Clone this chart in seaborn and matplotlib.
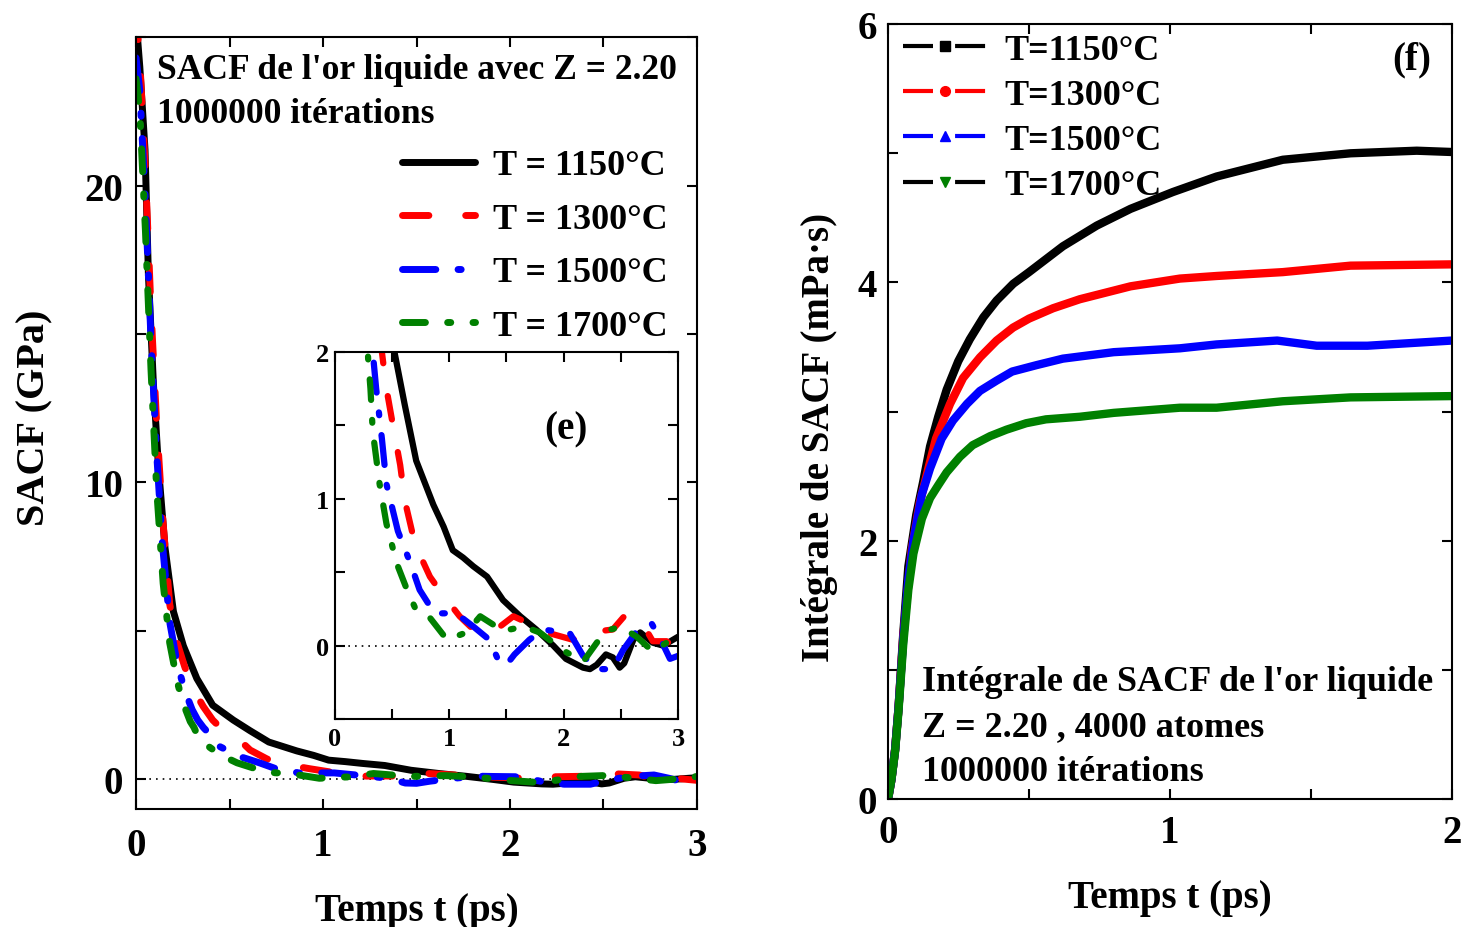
import matplotlib
matplotlib.use('Agg')
import matplotlib.pyplot as plt
import seaborn as sns
import pandas as pd
from matplotlib.ticker import MultipleLocator
from matplotlib.lines import Line2D

# SACF (GPa) vs time (ps)
t_1150 = [0, 0.02, 0.048, 0.066, 0.093, 0.12, 0.155, 0.2, 0.253, 0.325, 0.41, 0.52, 0.61, 0.71, 0.86, 0.95,
          1.03, 1.12, 1.21, 1.33, 1.47, 1.62, 1.76, 1.91, 2.02, 2.17, 2.23, 2.29, 2.37, 2.43, 2.49, 2.53,
          2.61, 2.67, 2.78, 2.87, 3.0]
sacf_1150 = [25.6, 24.0, 21.2, 17.0, 13.3, 10.5, 7.8, 5.65, 4.5, 3.4, 2.5, 2.0, 1.64, 1.26, 0.96, 0.81,
             0.65, 0.60, 0.54, 0.47, 0.31, 0.20, 0.11, 0.0, -0.09, -0.15, -0.16, -0.13, -0.06, -0.08, -0.15, -0.12,
             0.04, 0.09, 0.02, 0.0, 0.06]
t_1300 = [0, 0.02, 0.05, 0.08, 0.11, 0.14, 0.18, 0.22, 0.26, 0.30, 0.36, 0.41, 0.45, 0.50, 0.57, 0.61, 0.70,
          0.83, 0.93, 1.09, 1.21, 1.31, 1.41, 1.56, 1.70, 1.85, 2.08, 2.23, 2.43, 2.53, 2.69, 2.78, 2.90, 3.0]
sacf_1300 = [25.8, 24.2, 20.5, 15.8, 12.0, 9.0, 5.9, 4.6, 3.8, 3.1, 2.45, 2.0, 1.75, 1.53, 1.23, 0.99, 0.69,
             0.47, 0.36, 0.20, 0.11, 0.12, 0.11, 0.20, 0.15, 0.09, 0.04, 0.09, 0.11, 0.20, 0.15, 0.03, 0.03, -0.03]
t_1500 = [0, 0.02, 0.05, 0.08, 0.11, 0.14, 0.18, 0.22, 0.26, 0.30, 0.33, 0.36, 0.41, 0.45, 0.55, 0.66, 0.74,
          0.87, 1.06, 1.21, 1.35, 1.44, 1.50, 1.57, 1.70, 1.82, 1.91, 2.05, 2.17, 2.29, 2.43, 2.52, 2.64,
          2.77, 2.85, 2.93, 3.0]
sacf_1500 = [24.3, 23.2, 19.5, 14.8, 11.0, 8.0, 5.3, 3.9, 3.0, 2.35, 2.0, 1.75, 1.41, 1.10, 0.78, 0.56, 0.38,
             0.22, 0.22, 0.13, 0.04, -0.12, -0.13, -0.06, 0.04, 0.11, 0.10, 0.09, -0.07, -0.16, -0.16, -0.03, 0.10,
             0.15, 0.04, -0.09, -0.07]
t_1700 = [0, 0.02, 0.05, 0.08, 0.11, 0.145, 0.18, 0.22, 0.25, 0.29, 0.31, 0.33, 0.39, 0.45, 0.54, 0.63, 0.71,
          0.83, 0.98, 1.15, 1.27, 1.35, 1.47, 1.65, 1.79, 1.91, 1.99, 2.17, 2.29, 2.37, 2.50, 2.64, 2.78, 2.90, 3.0]
sacf_1700 = [23.6, 22.5, 18.5, 13.8, 9.8, 6.6, 4.6, 3.3, 2.6, 1.95, 1.75, 1.46, 1.10, 0.83, 0.56, 0.38, 0.24,
             0.19, 0.04, 0.09, 0.20, 0.16, 0.10, 0.13, 0.09, 0.02, -0.03, -0.11, 0.02, 0.10, 0.13, 0.06, -0.04, 0.02, 0.10]

# integral of SACF (mPa.s) vs time (ps)
ti_1150 = [0, 0.012, 0.025, 0.037, 0.054, 0.072, 0.10, 0.125, 0.149, 0.178, 0.208, 0.249, 0.29, 0.338, 0.385,
           0.444, 0.50, 0.62, 0.74, 0.86, 1.01, 1.165, 1.40, 1.64, 1.875, 2.0]
int_1150 = [0, 0.15, 0.38, 0.70, 1.28, 1.80, 2.2, 2.46, 2.73, 2.96, 3.17, 3.39, 3.56, 3.73, 3.86,
            3.99, 4.08, 4.28, 4.44, 4.57, 4.70, 4.82, 4.95, 5.0, 5.02, 5.01]
ti_1300 = [0, 0.012, 0.025, 0.037, 0.054, 0.084, 0.113, 0.143, 0.17, 0.22, 0.266, 0.326, 0.385, 0.443, 0.50,
           0.585, 0.68, 0.86, 1.035, 1.165, 1.40, 1.64, 2.0]
int_1300 = [0, 0.15, 0.38, 0.70, 1.26, 1.93, 2.3, 2.56, 2.79, 3.06, 3.26, 3.42, 3.55, 3.65, 3.72,
            3.80, 3.87, 3.97, 4.03, 4.05, 4.08, 4.13, 4.14]
ti_1500 = [0, 0.012, 0.025, 0.037, 0.054, 0.072, 0.09, 0.12, 0.149, 0.19, 0.23, 0.28, 0.326, 0.385, 0.44,
           0.527, 0.62, 0.80, 1.035, 1.165, 1.38, 1.52, 1.70, 2.0]
int_1500 = [0, 0.15, 0.38, 0.70, 1.24, 1.70, 2.0, 2.36, 2.56, 2.79, 2.93, 3.06, 3.16, 3.24, 3.31,
            3.36, 3.41, 3.46, 3.49, 3.52, 3.55, 3.51, 3.51, 3.55]
ti_1700 = [0, 0.012, 0.025, 0.037, 0.054, 0.072, 0.09, 0.12, 0.149, 0.178, 0.208, 0.255, 0.30, 0.362, 0.42,
           0.49, 0.56, 0.68, 0.80, 1.035, 1.165, 1.40, 1.64, 2.0]
int_1700 = [0, 0.15, 0.37, 0.68, 1.20, 1.62, 1.90, 2.17, 2.33, 2.43, 2.53, 2.65, 2.74, 2.81, 2.86,
            2.91, 2.94, 2.96, 2.99, 3.03, 3.03, 3.08, 3.11, 3.12]

labels_left = ['T = 1150°C', 'T = 1300°C', 'T = 1500°C', 'T = 1700°C']
labels_right = ['T=1150°C', 'T=1300°C', 'T=1500°C', 'T=1700°C']
colors = ['black', 'red', 'blue', 'green']
styles = ['-', (0, (3.8, 5.3)), (0, (4.8, 3.2, 0.45, 3.2)), (0, (3.3, 3.2, 0.45, 3.2))]
markers = ['s', 'o', '^', 'v']

sns.set_theme(style='ticks')
plt.rcParams['font.family'] = ['Liberation Serif', 'DejaVu Serif']
plt.rcParams['font.weight'] = 'bold'
plt.rcParams['axes.labelweight'] = 'bold'
for k in ['text.color', 'axes.labelcolor', 'xtick.color', 'ytick.color', 'axes.edgecolor']:
    plt.rcParams[k] = 'black'

fig = plt.figure(figsize=(14.63, 9.28), dpi=100)
ax1 = fig.add_axes([0.093, 0.127, 0.3834, 0.832])
axin = fig.add_axes([0.229, 0.2241, 0.2344, 0.3955])
ax2 = fig.add_axes([0.607, 0.1379, 0.3855, 0.835])

sacf = [(t_1150, sacf_1150), (t_1300, sacf_1300), (t_1500, sacf_1500), (t_1700, sacf_1700)]
integ = [(ti_1150, int_1150), (ti_1300, int_1300), (ti_1500, int_1500), (ti_1700, int_1700)]


def style_ax(ax, xmaj, xmin, ymaj, ymin, size, pad):
    ax.xaxis.set_major_locator(MultipleLocator(xmaj))
    ax.xaxis.set_minor_locator(MultipleLocator(xmin))
    ax.yaxis.set_major_locator(MultipleLocator(ymaj))
    ax.yaxis.set_minor_locator(MultipleLocator(ymin))
    ax.tick_params(which='both', direction='in', top=True, right=True, length=7, width=1.5,
                   labelsize=size, colors='black')
    ax.tick_params(axis='x', pad=pad)
    ax.tick_params(axis='y', pad=pad * 0.7)
    for s in ax.spines.values():
        s.set_linewidth(1.5)
        s.set_color('black')
    ax.set_facecolor('white')


for ax, lw in [(ax1, 5), (axin, 4.5)]:
    for (t, v), c, ls, lab in zip(sacf, colors, styles, labels_left):
        df = pd.DataFrame({'t': t, 'v': v})
        sns.lineplot(data=df, x='t', y='v', ax=ax, color=c, lw=lw, linestyle=ls, label=lab,
                     dash_capstyle='round', solid_capstyle='round', solid_joinstyle='round', legend=False)
    ax.axhline(0, color='black', lw=1.2, ls=(0, (1, 3)), zorder=0)

ax1.set_xlim(0, 3)
ax1.set_ylim(-1, 25)
style_ax(ax1, 1, 0.5, 10, 5, 28, 13)
ax1.set_xlabel('Temps t (ps)', fontsize=28, labelpad=20)
ax1.set_ylabel('SACF (GPa)', fontsize=29, labelpad=22)
ax1.yaxis.label.set_y(0.508)
ax1.text(0.037, 0.958, "SACF de l'or liquide avec Z = 2.20", transform=ax1.transAxes,
         fontsize=25.6, fontweight='bold', va='center', ha='left')
ax1.text(0.037, 0.901, "1000000 itérations", transform=ax1.transAxes,
         fontsize=25.6, fontweight='bold', va='center', ha='left')
ax1.legend(loc='upper left', bbox_to_anchor=(0.475, 0.855), frameon=False, fontsize=26,
           handlelength=2.0, handletextpad=0.5, labelspacing=0.56, borderpad=0, borderaxespad=0)

axin.set_xlim(0, 3)
axin.set_ylim(-0.5, 2)
style_ax(axin, 1, 0.5, 1, 0.5, 19, 6)
axin.set_xlabel('')
axin.set_ylabel('')
axin.text(0.673, 0.79, '(e)', transform=axin.transAxes, fontsize=28, fontweight='bold',
          ha='center', va='center')

for (t, v), c in zip(integ, colors):
    df = pd.DataFrame({'t': t, 'v': v})
    sns.lineplot(data=df, x='t', y='v', ax=ax2, color=c, lw=6, legend=False,
                 solid_joinstyle='round', solid_capstyle='round')
ax2.set_xlim(0, 2)
ax2.set_ylim(0, 6)
style_ax(ax2, 1, 0.5, 2, 1, 28, 11)
ax2.set_xlabel('Temps t (ps)', fontsize=28, labelpad=20)
ax2.set_ylabel('Intégrale de SACF (mPa·s)', fontsize=28, labelpad=14)
ax2.yaxis.label.set_y(0.468)

handle_colors = ['black', 'red', 'blue', 'black']
handles = [Line2D([], [], color=hc, lw=3, linestyle=(0, (7.2, 5.3)), marker=m, markersize=7,
                  markerfacecolor=c, markeredgecolor=c)
           for hc, c, m in zip(handle_colors, colors, markers)]
ax2.legend(handles, labels_right, loc='upper left', bbox_to_anchor=(0.027, 0.988), frameon=False,
           fontsize=26, handlelength=2.3, handletextpad=0.5, labelspacing=0.33, borderpad=0,
           borderaxespad=0, numpoints=1)
ax2.text(0.929, 0.955, '(f)', transform=ax2.transAxes, fontsize=28, fontweight='bold',
         ha='center', va='center')
for y, s in zip([0.152, 0.094, 0.036],
                ["Intégrale de SACF de l'or liquide", "Z = 2.20 , 4000 atomes", "1000000 itérations"]):
    ax2.text(0.06, y, s, transform=ax2.transAxes, fontsize=26, fontweight='bold', ha='left', va='center')

fig.savefig('out.png', dpi=100, facecolor='white')
